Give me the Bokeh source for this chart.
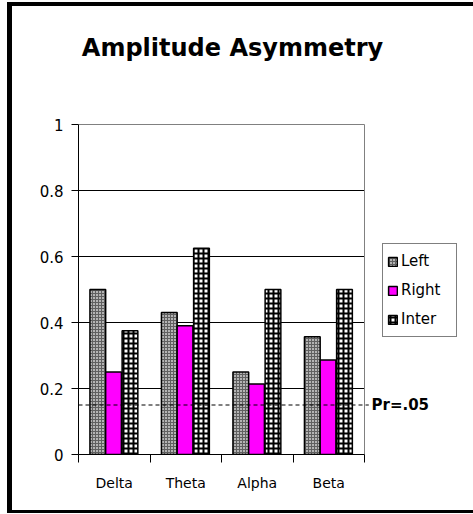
from bokeh.plotting import figure
from bokeh.models import (Range1d, FixedTicker, NumeralTickFormatter, Label,
                          Legend, LegendItem, ColumnDataSource)
from bokeh.embed import file_html
from bokeh.resources import INLINE

categories = ["Delta", "Theta", "Alpha", "Beta"]
left_vals = [0.50, 0.43, 0.25, 0.357]
right_vals = [0.25, 0.39, 0.214, 0.286]
inter_vals = [0.375, 0.625, 0.50, 0.50]
threshold = 0.15
y_ticks = [0, 0.2, 0.4, 0.6, 0.8, 1.0]
title_text = "Amplitude Asymmetry"
threshold_label = "Pr=.05"

FONT = "DejaVu Sans"
N = len(categories)
Y_MAX = y_ticks[-1]

# frame spans the whole right/top part of the canvas so that texts outside the
# plotting area are not clipped; the plotting area itself is [0, N] x [0, 1]
PX_X = 71.5
PX_Y = 330.0
p = figure(width=473, height=514, output_backend="svg", toolbar_location=None,
           x_range=Range1d(0, (473 - 78) / PX_X), y_range=Range1d(0, 454 / PX_Y),
           min_border_left=78, min_border_right=0,
           min_border_top=0, min_border_bottom=60)
p.background_fill_alpha = 0
p.border_fill_alpha = 0
p.outline_line_color = None
p.styles = {
    "background-color": "white",
    "box-shadow": ("inset 7px 0 0 white, inset 0 2px 0 white, inset 0 -1px 0 white, "
                   "inset 12px 0 0 black, inset 0 6px 0 black, inset 0 -4px 0 black"),
}

idx = list(range(N))

# gridlines and plot-area outline
gy = [t for t in y_ticks if 0 < t < Y_MAX]
p.segment(x0=[0] * len(gy), x1=[N] * len(gy), y0=gy, y1=gy,
          line_color="black", line_width=1)
p.segment(x0=[0, N], x1=[N, N], y0=[Y_MAX, 0], y1=[Y_MAX, Y_MAX],
          line_color="#808080", line_width=1)

src = ColumnDataSource(dict(
    xl=[i + 0.5 - 0.23 for i in idx],
    xr=[i + 0.5 - 0.01 for i in idx],
    xi=[i + 0.5 + 0.22 for i in idx],
    left=left_vals, right=right_vals, inter=inter_vals))

W = 0.22
r_left = p.vbar(x="xl", top="left", width=W, bottom=0, source=src,
                fill_color="#b4b4b4", line_color="black", line_width=1.5,
                hatch_pattern="+", hatch_color="#606060", hatch_scale=3, hatch_weight=1)
r_right = p.vbar(x="xr", top="right", width=W, bottom=0, source=src,
                 fill_color="#FF00FF", line_color="black", line_width=1.5)
r_inter = p.vbar(x="xi", top="inter", width=W, bottom=0, source=src,
                 fill_color="white", line_color="black", line_width=1.5,
                 hatch_pattern="+", hatch_color="black", hatch_scale=5, hatch_weight=2)

# threshold line
p.segment(x0=[0], x1=[N + 0.06], y0=[threshold], y1=[threshold],
          line_color="black", line_width=1, line_dash="4 3")
p.add_layout(Label(x=N, y=threshold, x_offset=7, text=threshold_label,
                   text_font=FONT, text_font_style="bold", text_font_size="15px",
                   text_baseline="middle", text_align="left", text_color="black"))

p.xgrid.visible = False
p.ygrid.visible = False

# y axis
yax = p.yaxis[0]
yax.bounds = (0, Y_MAX)
yax.ticker = FixedTicker(ticks=y_ticks)
yax.formatter = NumeralTickFormatter(format="0.[0]")
yax.axis_line_color = "black"
yax.major_tick_line_color = "black"
yax.major_tick_out = 7
yax.major_tick_in = 0
yax.minor_tick_line_color = None
yax.major_label_text_font = FONT
yax.major_label_text_font_size = "15px"
yax.major_label_text_color = "black"
yax.major_label_standoff = 8

# x axis
xax = p.xaxis[0]
xax.bounds = (0, N)
xax.ticker = FixedTicker(ticks=[i + 0.5 for i in idx], minor_ticks=list(range(N + 1)))
xax.major_label_overrides = {i + 0.5: c for i, c in zip(idx, categories)}
xax.axis_line_color = "black"
xax.major_tick_line_color = None
xax.major_tick_out = 0
xax.major_tick_in = 0
xax.minor_tick_line_color = "black"
xax.minor_tick_out = 8
xax.minor_tick_in = 0
xax.major_label_text_font = FONT
xax.major_label_text_font_size = "14px"
xax.major_label_text_color = "black"
xax.major_label_standoff = 12

# title
p.add_layout(Label(x=(232 - 78) / PX_X, y=(454 - 47) / PX_Y, text=title_text, text_font=FONT,
                   text_font_style="bold", text_font_size="24px",
                   text_align="center", text_baseline="middle", text_color="black"))

# legend
legend = Legend(items=[LegendItem(label="Left", renderers=[r_left]),
                       LegendItem(label="Right", renderers=[r_right]),
                       LegendItem(label="Inter", renderers=[r_inter])],
                location=(304, 117), orientation="vertical",
                border_line_color="black", border_line_width=1,
                background_fill_color="white", background_fill_alpha=1,
                padding=4, spacing=3, margin=0,
                label_height=26, label_width=51, glyph_height=11, glyph_width=11,
                label_standoff=3,
                label_text_font=FONT, label_text_font_size="15px",
                label_text_color="black")
p.add_layout(legend, "center")

open("out.html", "w").write(file_html(p, INLINE))
